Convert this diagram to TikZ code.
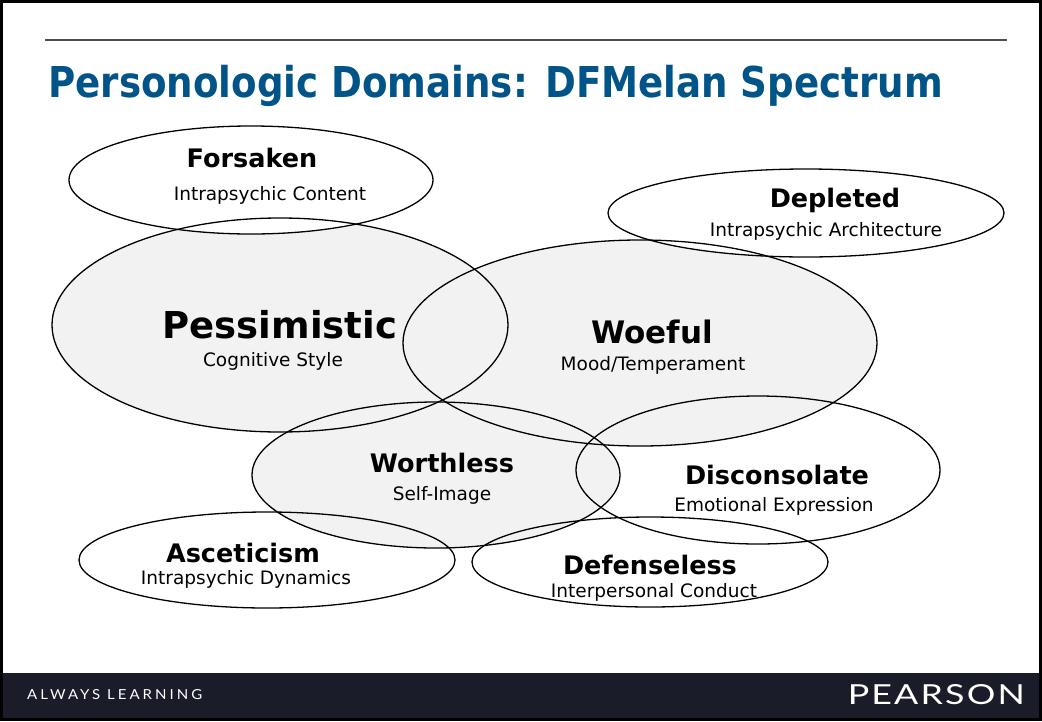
\documentclass[tikz,border=0pt]{standalone}
\usepackage{fontspec}
\setmainfont{DejaVu Sans}
\newfontfamily\sloganfont[LetterSpace=20]{Lato}
\newfontfamily\brandfont[LetterSpace=6]{Lato}
\usetikzlibrary{shapes.geometric}

\definecolor{titleblue}{RGB}{0,84,135}
\definecolor{domaingray}{RGB}{242,242,242}
\definecolor{footerbar}{RGB}{27,28,41}

\tikzset{
  domainshape/.style={ellipse, draw=black, line width=1.3pt, inner sep=0pt},
  trait/.style={anchor=base, inner sep=0pt, font=\bfseries\fontsize{25.5}{28}\selectfont},
  area/.style={anchor=base, inner sep=0pt, font=\fontsize{18.5}{20}\selectfont},
}

% name/x/y/x radius/y radius/fill, in the order they are filled
\def\domainlist{disconsolate/758/470/182/74/white, defenseless/650/562/178/45/white,
  asceticism/267/560/188/48/white, pessimistic/280/325/228/107/domaingray,
  woeful/640/343/237/103/domaingray, worthless/436/475/184/73/domaingray,
  forsaken/251/180/182/54/white, depleted/806/213/198/44/white}

\begin{document}
\begin{tikzpicture}[x=1pt,y=-1pt]
  \useasboundingbox (0,0) rectangle (1042,721);
  % slide frame, rule and footer bar
  \fill[white] (0,0) rectangle (1042,721);
  \fill[footerbar] (0,673) rectangle (1042,721);
  \draw[black, line width=3pt] (1.5,1.5) rectangle (1040.5,719.5);
  \draw[black!70, line width=1.5pt] (45,40) -- (1007,40);

  \node[anchor=base west, inner sep=0pt, text=titleblue,
        font=\bfseries\fontsize{42.5}{46}\selectfont] (title) at (48,97)
        {\scalebox{0.875}[1]{Personologic Domains: DFMelan Spectrum}};

  % fills first, then every outline on top
  \foreach \n/\x/\y/\rx/\ry/\c in \domainlist
    \fill[\c] (\x,\y) ellipse [x radius=\rx, y radius=\ry];
  \foreach \n/\x/\y/\rx/\ry/\c in \domainlist
    \node[domainshape, minimum width=2*\rx*1pt, minimum height=2*\ry*1pt] (\n) at (\x,\y) {};

  % labels
  \node[trait] (forsakenName) at (252,167) {Forsaken};
  \node[area] (forsakenArea) at (270,200) {Intrapsychic Content};
  \node[trait] (depletedName) at (835,207) {Depleted};
  \node[area] (depletedArea) at (826,236) {Intrapsychic Architecture};
  \node[trait, font=\bfseries\fontsize{37}{40}\selectfont] (pessimisticName) at (280,338) {Pessimistic};
  \node[area] (pessimisticArea) at (273,366) {Cognitive Style};
  \node[trait, font=\bfseries\fontsize{31}{34}\selectfont] (woefulName) at (652,343) {Woeful};
  \node[area] (woefulArea) at (653,370) {Mood/Temperament};
  \node[trait] (worthlessName) at (442,472) {Worthless};
  \node[area] (worthlessArea) at (442,500) {Self-Image};
  \node[trait] (disconsolateName) at (777,484) {Disconsolate};
  \node[area] (disconsolateArea) at (774,511) {Emotional Expression};
  \node[trait] (asceticismName) at (243,562) {Asceticism};
  \node[area] (asceticismArea) at (246,584) {Intrapsychic Dynamics};
  \node[trait] (defenselessName) at (650,574) {Defenseless};
  \node[area] (defenselessArea) at (654,597) {Interpersonal Conduct};

  % footer
  \node[anchor=west, inner sep=0pt, text=white] (slogan) at (27,695)
    {\resizebox{175pt}{10pt}{\sloganfont ALWAYS LEARNING}};
  \node[anchor=east, inner sep=0pt, text=white] (brand) at (1025,695)
    {\resizebox{177pt}{20pt}{\brandfont PEARSON}};
\end{tikzpicture}
\end{document}
